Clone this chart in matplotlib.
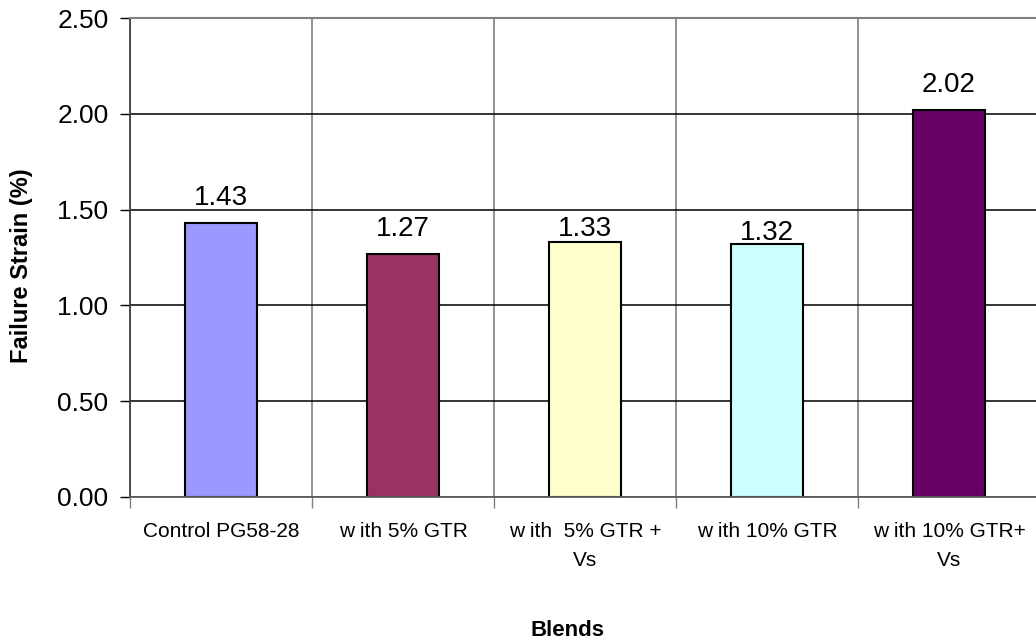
import matplotlib
matplotlib.use('Agg')
import matplotlib.pyplot as plt
import numpy as np

# data
blends = ['Control PG58-28', 'w ith 5% GTR', 'w ith  5% GTR +\nVs',
          'w ith 10% GTR', 'w ith 10% GTR+\nVs']
failure_strain = [1.43, 1.27, 1.33, 1.32, 2.02]
bar_colors = ['#9999FF', '#993366', '#FFFFCC', '#CCFFFF', '#660066']
yticks = [0.0, 0.5, 1.0, 1.5, 2.0, 2.5]
# the data labels sit at different heights above their bars (points)
label_gap = [13, 13, 4.3, 2.9, 13]

plt.rcParams['font.family'] = ['Liberation Sans', 'DejaVu Sans']

fig = plt.figure(figsize=(10.36, 6.43), dpi=100)
ax = fig.add_axes([130 / 1036, 1 - 497 / 643, 910 / 1036, 479 / 643])

x = np.arange(len(blends))
bars = ax.bar(x, failure_strain, width=0.4, color=bar_colors,
              edgecolor='black', linewidth=1.5, zorder=2)

for b, v, g in zip(bars, failure_strain, label_gap):
    ax.annotate('%.2f' % v, (b.get_x() + b.get_width() / 2, v),
                xytext=(0, g), textcoords='offset points',
                ha='center', va='baseline', fontsize=20)

ax.set_xlim(-0.5, len(blends) - 0.5)
ax.set_ylim(0, 2.5)
ax.set_yticks(yticks)
ax.set_yticklabels(['%.2f' % t for t in yticks], fontsize=19)

ax.set_xticks(x)
ax.set_xticklabels(blends, fontsize=15, linespacing=1.68, va='top')
ax.set_xticks(np.arange(len(blends) + 1) - 0.5, minor=True)
ax.tick_params(axis='x', which='major', length=0, pad=18)
ax.tick_params(axis='x', which='minor', length=8, width=1, color='#808080',
               direction='out')
ax.tick_params(axis='y', length=7, width=1, pad=8.5, direction='out')

ax.set_axisbelow(True)
ax.yaxis.grid(True, color='black', linewidth=1.1)
ax.xaxis.grid(True, which='minor', color='#808080', linewidth=1.2)

ax.spines['top'].set_color('#808080')
ax.spines['top'].set_linewidth(1.5)
ax.spines['right'].set_visible(False)
ax.spines['left'].set_color('#404040')
ax.spines['left'].set_linewidth(1.3)
ax.spines['bottom'].set_color('#606060')
ax.spines['bottom'].set_linewidth(1.3)

fig.text(22 / 1036, 1 - 266 / 643, 'Failure Strain (%)', rotation=90,
         ha='center', va='center', fontsize=17, fontweight='bold')
fig.text(567 / 1036, 1 - 630 / 643, 'Blends', ha='center', va='center',
         fontsize=16, fontweight='bold')

fig.savefig('out.png', dpi=100)
